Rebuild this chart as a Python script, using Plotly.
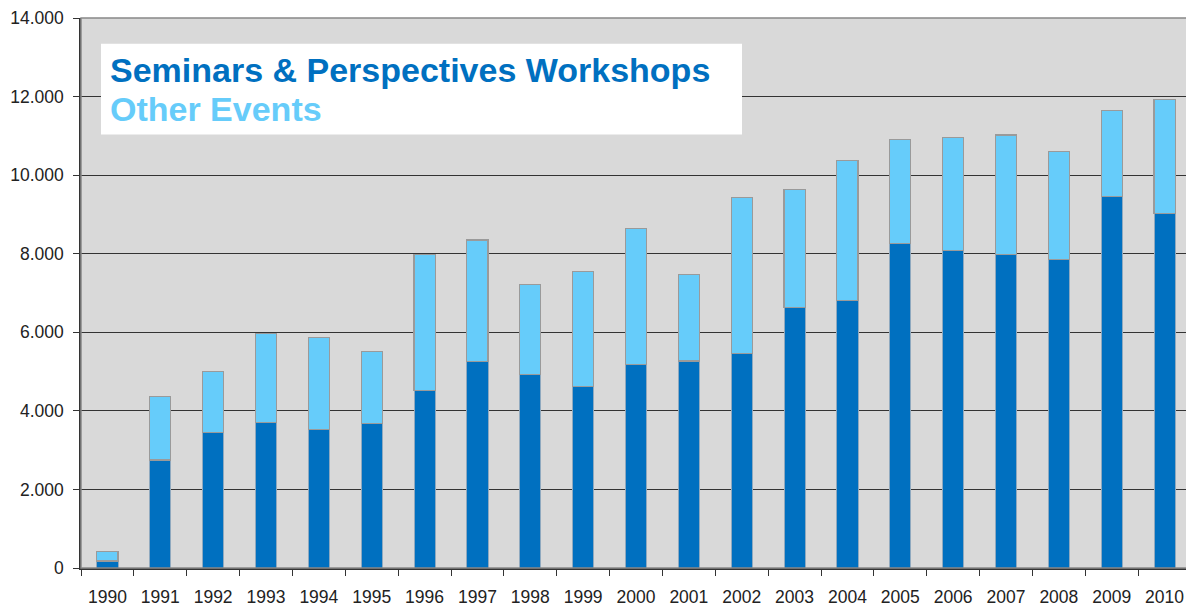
import plotly.graph_objects as go

years = [str(y) for y in range(1990, 2011)]
seminars = [180, 2750, 3450, 3700, 3520, 3670, 4520, 5260, 4920, 4630, 5180,
            5270, 5450, 6640, 6810, 8270, 8080, 7970, 7850, 9450, 9030]
totals = [430, 4370, 5000, 5970, 5870, 5520, 7980, 8350, 7220, 7540, 8650,
          7470, 9430, 9630, 10370, 10910, 10950, 11020, 10600, 11640, 11920]
other = [t - s for t, s in zip(totals, seminars)]

y_ticks = [0, 2000, 4000, 6000, 8000, 10000, 12000, 14000]

DARK = "#0070C0"
LIGHT = "#66CCFA"
FONT = "Liberation Sans, Arial, sans-serif"

fig = go.Figure()
fig.add_trace(go.Bar(x=years, y=seminars, name="Seminars & Perspectives Workshops",
                     marker=dict(color=DARK, line=dict(color="#8FA9BF", width=1)),
                     width=0.4))
fig.add_trace(go.Bar(x=years, y=other, name="Other Events",
                     marker=dict(color=LIGHT, line=dict(color="#9A9A9A", width=1.2)),
                     width=0.4))

# page body has an 8px margin, so the figure is slightly smaller than the window
fig.update_layout(
    barmode="stack",
    width=1186, height=599,
    margin=dict(l=73, r=3, t=10, b=39, autoexpand=False),
    paper_bgcolor="white",
    plot_bgcolor="#D9D9D9",
    showlegend=False,
    separators=",.",
    font=dict(family=FONT, size=17.5, color="#222222"),
    xaxis=dict(type="category", tickson="boundaries", ticks="outside", ticklen=6,
               tickcolor="#333333", showline=True, linecolor="#333333", linewidth=1.5,
               showgrid=False, ticklabelstandoff=12, automargin=False,
               ticklabeloverflow="allow"),
    yaxis=dict(range=[0, 14000], tickvals=y_ticks, tickformat=",d", ticks="outside",
               ticklen=6, tickcolor="#333333", showline=True, linecolor="#333333",
               linewidth=1.5, showgrid=True, gridcolor="#333333", gridwidth=1,
               zeroline=False, ticklabelstandoff=6, automargin=False,
               ticklabeloverflow="allow"),
    shapes=[
        dict(type="rect", xref="paper", yref="paper", x0=0, x1=1, y0=0, y1=1,
             line=dict(color="#888888", width=1.5), fillcolor="rgba(0,0,0,0)", layer="above"),
        dict(type="rect", xref="paper", yref="paper", x0=0.018, x1=0.5955,
             y0=0.788, y1=0.953, line=dict(width=0), fillcolor="white", layer="above"),
    ],
    annotations=[
        dict(xref="paper", yref="paper", x=0.024, y=0.905, xanchor="left", yanchor="middle",
             text="<b>Seminars &amp; Perspectives Workshops</b>", showarrow=False,
             font=dict(size=34, color=DARK, family=FONT)),
        dict(xref="paper", yref="paper", x=0.024, y=0.834, xanchor="left", yanchor="middle",
             text="<b>Other Events</b>", showarrow=False,
             font=dict(size=34, color=LIGHT, family=FONT)),
    ],
)

fig.write_html("out.html")
